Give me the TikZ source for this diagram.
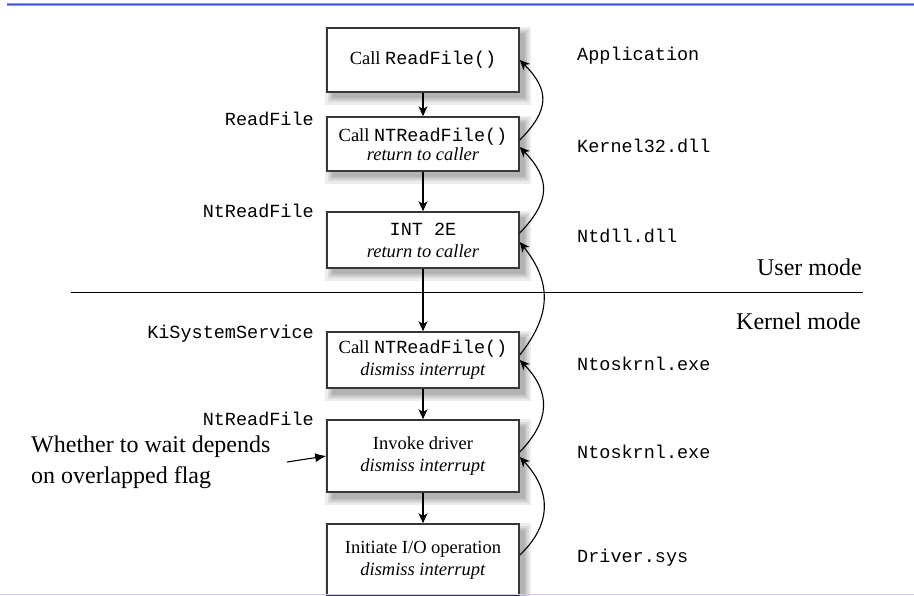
\documentclass[tikz,border=0pt]{standalone}
\usepackage{fontspec}
\setmainfont{Liberation Serif}
\setmonofont{Liberation Mono}
\usetikzlibrary{arrows.meta}
\definecolor{boxline}{RGB}{55,55,55}
\definecolor{rulecore}{RGB}{70,80,222}
\definecolor{ruleedge}{RGB}{140,150,240}
\definecolor{footrule}{RGB}{205,205,238}
\definecolor{shadeA}{RGB}{236,236,236}
\definecolor{shadeB}{RGB}{218,218,218}
\definecolor{shadeC}{RGB}{198,198,198}
\definecolor{shadeD}{RGB}{178,178,178}
\begin{document}
\begin{tikzpicture}[x=1pt,y=1pt,
  stage/.style={draw=boxline, line width=1.5pt, fill=white,
    minimum width=192pt, inner sep=0pt, align=center,
    font=\fontsize{18.5}{22}\selectfont},
  flow/.style={-{Stealth[length=10pt,width=9pt,inset=3pt]}, line width=1.1pt},
  module/.style={font=\fontsize{18.5}{22}\selectfont\ttfamily,
    inner sep=0pt, text height=11pt, text depth=0pt},
  bigtext/.style={font=\fontsize{24}{31}\selectfont, inner sep=0pt}
]
\useasboundingbox (0,0) rectangle (914,-596);

% header rule
\draw[ruleedge, line width=2.6pt] (7,-4.5) -- (914,-4.5);
\draw[rulecore, line width=1.3pt] (7,-4.7) -- (914,-4.7);

% soft shadows, one stack of grey rectangles per box (centre y, half height)
\foreach \cy/\hh in {60/32,144/27,240/28,360/28,456/36,560/36} {
  \pgfmathsetmacro{\shtop}{-\cy+\hh-6}
  \pgfmathsetmacro{\shbot}{-\cy-\hh-6}
  \fill[shadeA] (325,\shbot-7) rectangle (531,\shtop+7);
  \fill[shadeB] (327.5,\shbot-4.5) rectangle (528.5,\shtop+4.5);
  \fill[shadeC] (329.5,\shbot-2.5) rectangle (526.5,\shtop+2.5);
  \fill[shadeD] (331.5,\shbot-0.5) rectangle (524.5,\shtop+0.5);
}

% user / kernel boundary
\draw[line width=1.2pt] (71,-292.5) -- (863,-292.5);
\node[bigtext, anchor=east, text height=16pt, text depth=0pt] (user) at (862,-268) {User mode};
\node[bigtext, anchor=east, text height=16pt, text depth=0pt] (kernel) at (861,-322) {Kernel mode};

% call chain
\node[stage, minimum height=64pt] (b1) at (423,-60) {Call \texttt{ReadFile()}};
\node[stage, minimum height=54pt] (b2) at (423,-144) {Call \texttt{NTReadFile()}\\[-3pt]\textit{return to caller}};
\node[stage, minimum height=56pt] (b3) at (423,-240) {\texttt{INT 2E}\\\textit{return to caller}};
\node[stage, minimum height=56pt] (b4) at (423,-360) {Call \texttt{NTReadFile()}\\\textit{dismiss interrupt}};
\node[stage, minimum height=72pt] (b5) at (423,-456) {Invoke driver\\\textit{dismiss interrupt}};
\node[stage, minimum height=72pt] (b6) at (423,-560) {Initiate I/O operation\\\textit{dismiss interrupt}};

\draw[flow] (b1) -- (b2);
\draw[flow] (b2) -- (b3);
\draw[flow] (b3) -- (b4);
\draw[flow] (b4) -- (b5);
\draw[flow] (b5) -- (b6);

% returns
\draw[flow] ([yshift=4pt]b2.east) .. controls +(30,30) and +(30,-30) .. (b1.east);
\draw[flow] ([yshift=7pt]b3.east) .. controls +(31,32) and +(31,-32) .. ([yshift=-3pt]b2.east);
\draw[flow] ([yshift=5pt]b4.east) .. controls +(32,40) and +(32,-40) .. ([yshift=-2pt]b3.east);
\draw[flow] ([yshift=4pt]b5.east) .. controls +(31,32) and +(31,-32) .. (b4.east);
\draw[flow] ([yshift=5pt]b6.east) .. controls +(32,30) and +(32,-34) .. ([yshift=-1pt]b5.east);

% module names
\node[module, anchor=west] (m1) at (577,-55) {Application};
\node[module, anchor=west] (m2) at (577,-147) {Kernel32.dll};
\node[module, anchor=west] (m3) at (577,-237) {Ntdll.dll};
\node[module, anchor=west] (m4) at (577,-365) {Ntoskrnl.exe};
\node[module, anchor=west] (m5) at (577,-453) {Ntoskrnl.exe};
\node[module, anchor=west] (m6) at (577,-557) {Driver.sys};

% routine names
\node[module, anchor=east] (f2) at (314,-120) {ReadFile};
\node[module, anchor=east] (f3) at (314,-212) {NtReadFile};
\node[module, anchor=east] (f4) at (314,-333) {KiSystemService};
\node[module, anchor=east] (f5) at (314,-420) {NtReadFile};

% note
\node[bigtext, anchor=west, align=left] (note) at (31,-462) {Whether to wait depends\\on overlapped flag};
\coordinate (noteend) at (287,-462);
\draw[-{Latex[length=11pt,width=9pt]}, line width=1.1pt] (noteend) -- (b5.west);

% footer rule
\draw[footrule, line width=1.5pt] (0,-594.5) -- (914,-594.5);
\end{tikzpicture}
\end{document}
